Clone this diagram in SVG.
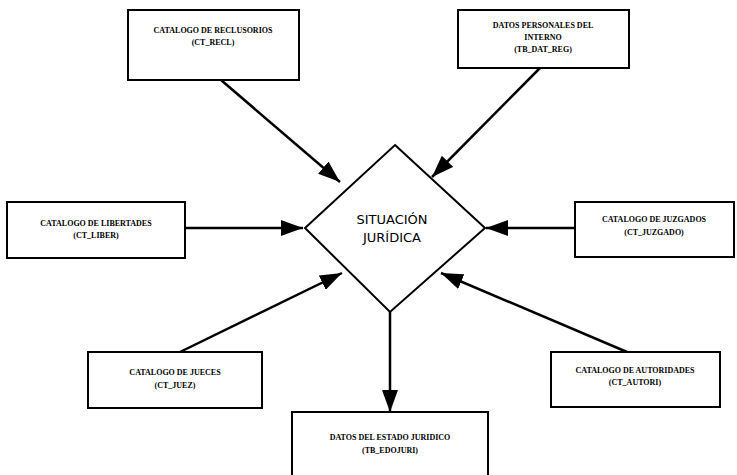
<svg xmlns="http://www.w3.org/2000/svg" width="737" height="475" viewBox="0 0 737 475">
<defs>
<marker id="ah" markerWidth="22" markerHeight="16" refX="22" refY="8" orient="auto" markerUnits="userSpaceOnUse">
<path d="M0,0 L22,8 L0,16 Z" fill="#000"/>
</marker>
<style>
.box{fill:#fff;stroke:#000;stroke-width:2}
.t{font-family:"Liberation Serif",serif;font-weight:bold;font-size:8px;text-anchor:middle;fill:#000}
.d{font-family:"DejaVu Sans","Liberation Sans",sans-serif;font-size:13px;text-anchor:middle;fill:#000}
.c{stroke:#000;stroke-width:2.5;fill:none;marker-end:url(#ah)}
</style>
</defs>
<rect width="737" height="475" fill="#fff"/>
<g id="connectors">
<line class="c" x1="221" y1="80" x2="340" y2="182"/>
<line class="c" x1="540" y1="68" x2="432" y2="177"/>
<line class="c" x1="185" y1="228" x2="303" y2="228"/>
<line class="c" x1="575" y1="228" x2="486" y2="228"/>
<line class="c" x1="180" y1="352" x2="342" y2="273"/>
<line class="c" x1="627" y1="352" x2="441" y2="273"/>
<line class="c" x1="390" y1="312" x2="390" y2="412"/>
</g>
<g id="situacion">
<path class="box" d="M395,145 L485,228 L390,312 L305,228 Z"/>
<text class="d" x="392" y="224">SITUACIÓN</text>
<text class="d" x="392" y="242">JURÍDICA</text>
</g>
<g id="reclusorios">
<rect class="box" x="128" y="10" width="171" height="70"/>
<text class="t" x="213" y="33">CATALOGO DE RECLUSORIOS</text>
<text class="t" x="213" y="45">(CT_RECL)</text>
</g>
<g id="datos-personales">
<rect class="box" x="458" y="10" width="171" height="58"/>
<text class="t" x="543" y="28">DATOS PERSONALES DEL</text>
<text class="t" x="543" y="40">INTERNO</text>
<text class="t" x="543" y="52">(TB_DAT_REG)</text>
</g>
<g id="libertades">
<rect class="box" x="7" y="202" width="178" height="56"/>
<text class="t" x="96" y="226">CATALOGO DE LIBERTADES</text>
<text class="t" x="96" y="238">(CT_LIBER)</text>
</g>
<g id="juzgados">
<rect class="box" x="575" y="202" width="159" height="55"/>
<text class="t" x="654" y="222">CATALOGO DE JUZGADOS</text>
<text class="t" x="654" y="235">(CT_JUZGADO)</text>
</g>
<g id="jueces">
<rect class="box" x="88" y="352" width="174" height="56"/>
<text class="t" x="175" y="375">CATALOGO DE JUECES</text>
<text class="t" x="175" y="388">(CT_JUEZ)</text>
</g>
<g id="autoridades">
<rect class="box" x="551" y="352" width="169" height="55"/>
<text class="t" x="635" y="373">CATALOGO DE AUTORIDADES</text>
<text class="t" x="635" y="385">(CT_AUTORI)</text>
</g>
<g id="estado-juridico">
<rect class="box" x="292" y="412" width="196" height="70"/>
<text class="t" x="390" y="440">DATOS DEL ESTADO JURIDICO</text>
<text class="t" x="390" y="453">(TB_EDOJURI)</text>
</g>
</svg>
